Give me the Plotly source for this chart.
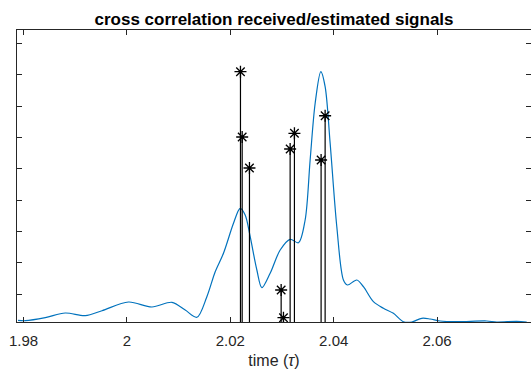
import plotly.graph_objects as go

# blue cross-correlation curve (time, value)
curve_t = [1.97892, 1.98033, 1.98420, 1.98806, 1.99193, 1.99516, 2.00030, 2.00483,
           2.00870, 2.01127, 2.01353, 2.01546, 2.01707, 2.01867, 2.02061, 2.02190,
           2.02287, 2.02384, 2.02513, 2.02610, 2.02770, 2.02964, 2.03157, 2.03318,
           2.03447, 2.03544, 2.03641, 2.03751, 2.03834, 2.03931, 2.04060, 2.04188,
           2.04265, 2.04447, 2.04575, 2.04768, 2.04961, 2.05155, 2.05348, 2.05510,
           2.05704, 2.05864, 2.06058, 2.06380, 2.06961, 2.07154, 2.07541, 2.07734]
curve_v = [0.0054, 0.0041, 0.0137, 0.0287, 0.0201, 0.0360, 0.0637, 0.0478,
           0.0628, 0.0382, 0.0150, 0.0806, 0.1603, 0.2190, 0.3146, 0.3624,
           0.3410, 0.2719, 0.1657, 0.1093, 0.1552, 0.2295, 0.2636, 0.2527,
           0.3251, 0.5163, 0.6971, 0.7978, 0.7500, 0.5696, 0.3037, 0.1339,
           0.1179, 0.1339, 0.1125, 0.0647, 0.0437, 0.0277, 0.0010, 0.0000,
           0.0118, 0.0096, 0.0032, 0.0010, 0.0032, 0.0000, 0.0022, 0.0000]

# stem (estimated) values
stem_t = [2.02196, 2.02229, 2.02370, 2.02983, 2.03028, 2.03157, 2.03240, 2.03756, 2.03834]
stem_v = [0.7978, 0.5897, 0.4908, 0.1020, 0.0137, 0.5514, 0.6014, 0.5163, 0.6574]

x_ticks = [1.98, 2.00, 2.02, 2.04, 2.06]
x_tick_text = ["1.98", "2", "2.02", "2.04", "2.06"]
y_ticks = [0.0883 + 0.1 * k for k in range(9)]

title_text = "cross correlation received/estimated signals"
x_label = "time (<i>τ</i>)"

fig = go.Figure()
fig.add_trace(go.Scatter(x=curve_t, y=curve_v, mode="lines",
                         line=dict(color="#0072BD", width=1.2, shape="spline", smoothing=0.9),
                         showlegend=False, hoverinfo="skip"))

sx, sy = [], []
for t, v in zip(stem_t, stem_v):
    sx += [t, t, None]
    sy += [0, v, None]
fig.add_trace(go.Scatter(x=sx, y=sy, mode="lines",
                         line=dict(color="black", width=1.2),
                         showlegend=False, hoverinfo="skip"))
fig.add_trace(go.Scatter(x=stem_t, y=stem_v, mode="markers",
                         marker=dict(symbol="asterisk-open", size=10, color="black",
                                     line=dict(color="black", width=1.3)),
                         showlegend=False))

axis_common = dict(showline=True, mirror="allticks", linecolor="#262626", linewidth=1,
                   ticks="inside", ticklen=5, tickcolor="#262626", tickwidth=1,
                   showgrid=False, zeroline=False)

fig.update_layout(
    width=531, height=372,
    margin=dict(l=17, r=0, t=30, b=50),
    paper_bgcolor="white", plot_bgcolor="white",
    font=dict(family="Liberation Sans, Arial, sans-serif", color="#262626"),
    title=dict(text="<b>" + title_text + "</b>", x=0.5, xref="paper",
               y=1 - 19 / 372, yref="container", yanchor="middle",
               font=dict(size=17, color="black")),
    xaxis=dict(range=[1.978724, 2.07817], tickvals=x_ticks, ticktext=x_tick_text,
               tickfont=dict(size=15), ticklabelstandoff=5,
               title=dict(text=x_label, font=dict(size=16), standoff=6),
               **axis_common),
    yaxis=dict(range=[0, 0.9307], tickvals=y_ticks, showticklabels=False,
               **axis_common),
)

fig.write_html("out.html")
